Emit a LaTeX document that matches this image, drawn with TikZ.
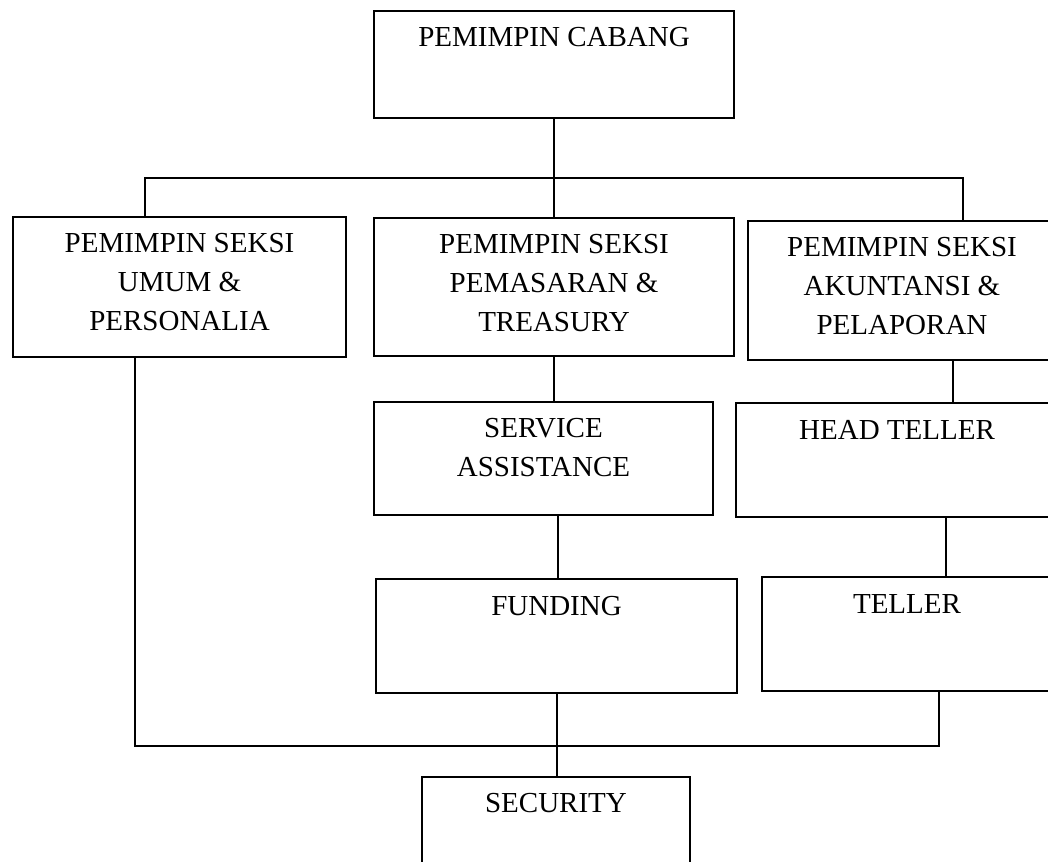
\documentclass[tikz,border=0pt]{standalone}
\usepackage{fontspec}
\setmainfont{Liberation Serif}
\begin{document}
\begin{tikzpicture}[x=1pt,y=-1pt,
  box/.style={draw,line width=2pt,rectangle,inner sep=0pt,anchor=north west},
  lbl/.style={anchor=north,inner sep=0pt,align=center,font=\fontsize{29}{39}\selectfont},
  conn/.style={line width=2pt}]
\useasboundingbox (0,0) rectangle (1048,861);
\clip (0,0) rectangle (1048,861);
% boxes
\node[box,minimum width=360pt,minimum height=107pt] (cabang) at (373,10) {};
\node[box,minimum width=333pt,minimum height=140pt] (left) at (12,216) {};
\node[box,minimum width=360pt,minimum height=138pt] (middle) at (373,217) {};
\node[box,minimum width=308pt,minimum height=139pt] (right) at (747,220) {};
\node[box,minimum width=339pt,minimum height=113pt] (service) at (373,401) {};
\node[box,minimum width=322pt,minimum height=114pt] (head) at (735,402) {};
\node[box,minimum width=361pt,minimum height=114pt] (funding) at (375,578) {};
\node[box,minimum width=290pt,minimum height=114pt] (teller) at (761,576) {};
\node[box,minimum width=268pt,minimum height=130pt] (security) at (421,776) {};
% labels
\node[lbl] (cabang-t) at ([yshift=-17pt]cabang.north) {PEMIMPIN CABANG};
\node[lbl] (left-t) at ([yshift=-17pt]left.north) {PEMIMPIN SEKSI\\UMUM \&\\PERSONALIA};
\node[lbl] (middle-t) at ([yshift=-17pt]middle.north) {PEMIMPIN SEKSI\\PEMASARAN \&\\TREASURY};
\node[lbl] (right-t) at ([yshift=-17pt]right.north) {PEMIMPIN SEKSI\\AKUNTANSI \&\\PELAPORAN};
\node[lbl] (service-t) at ([yshift=-17pt]service.north) {SERVICE\\ASSISTANCE};
\node[lbl] (head-t) at ([yshift=-18pt]head.north) {HEAD TELLER};
\node[lbl] (funding-t) at ([yshift=-18pt]funding.north) {FUNDING};
\node[lbl] (teller-t) at ([yshift=-18pt]teller.north) {TELLER};
\node[lbl] (security-t) at ([yshift=-17pt]security.north) {SECURITY};
% connectors
\coordinate (j1) at (145,178);
\coordinate (j2) at (963,178);
\draw[conn] (cabang.south) -- (middle.north);
\draw[conn] (j1 |- left.north) -- (j1) -- (j2) -- (j2 |- right.north);
\draw[conn] (middle.south) -- (middle.south |- service.north);
\coordinate (c3) at (953,0);
\draw[conn] (c3 |- right.south) -- (c3 |- head.north);
\coordinate (c4) at (558,0);
\draw[conn] (c4 |- service.south) -- (c4 |- funding.north);
\coordinate (c5) at (946,0);
\draw[conn] (c5 |- head.south) -- (c5 |- teller.north);
\coordinate (b1) at (135,746);
\coordinate (b2) at (939,746);
\draw[conn] (b1 |- left.south) -- (b1) -- (b2) -- (b2 |- teller.south);
\coordinate (c6) at (557,0);
\draw[conn] (c6 |- funding.south) -- (c6 |- security.north);
\end{tikzpicture}
\end{document}
